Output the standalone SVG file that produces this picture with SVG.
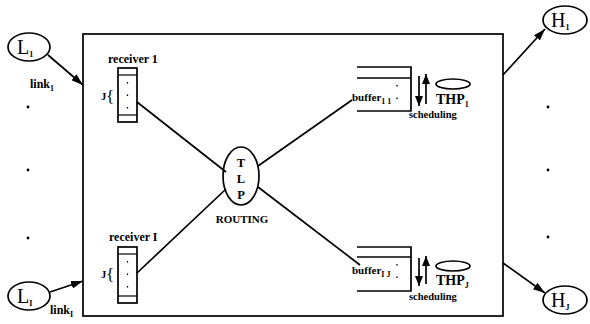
<svg xmlns="http://www.w3.org/2000/svg" width="590" height="324" viewBox="0 0 590 324">
  <defs>
    <marker id="arrow" viewBox="0 0 12 8" refX="12" refY="4" markerWidth="12" markerHeight="8" markerUnits="userSpaceOnUse" orient="auto">
      <path d="M0,0 L12,4 L0,8 Z" fill="#000"/>
    </marker>
    <marker id="harrow" viewBox="0 0 10 8" refX="10" refY="4" markerWidth="10" markerHeight="8" markerUnits="userSpaceOnUse" orient="auto">
      <path d="M0,0 L10,4 L0,8 Z" fill="#000"/>
    </marker>
    <style>
      .ln { stroke: #000; stroke-width: 1.7; fill: none; }
      .thin { stroke: #000; stroke-width: 1.2; fill: none; }
      .dot { stroke: #000; stroke-width: 1.3; stroke-dasharray: 1.5 11; fill: none; }
      .t { font-family: "Liberation Serif", "Times New Roman", serif; fill: #000; }
      .big { font-size: 20px; }
      .lbl { font-size: 12px; font-weight: bold; }
      .buf { font-size: 11px; font-weight: bold; }
      .sub { font-size: 8px; font-weight: bold; }
      .thp { font-size: 14px; font-weight: bold; }
      .sm { font-size: 10.5px; font-weight: bold; }
    </style>
  </defs>

  <rect width="590" height="324" fill="#fff"/>

  <!-- switch body -->
  <g id="switch">
    <rect x="83" y="34" width="420" height="282" class="ln"/>
  </g>

  <!-- input ports -->
  <g id="L1">
    <ellipse cx="29" cy="47" rx="21" ry="14" class="ln"/>
    <text x="17" y="54" class="t big">L<tspan class="sub" font-size="10" dy="3">1</tspan></text>
  </g>
  <g id="LI">
    <ellipse cx="29" cy="296" rx="21" ry="14" class="ln"/>
    <text x="17" y="303" class="t big">L<tspan class="sub" font-size="10" dy="3">I</tspan></text>
  </g>

  <!-- output ports -->
  <g id="H1">
    <ellipse cx="565" cy="20" rx="22" ry="14" class="ln"/>
    <text x="551" y="27" class="t big">H<tspan class="sub" font-size="10" dy="3">1</tspan></text>
  </g>
  <g id="HJ">
    <ellipse cx="565" cy="300" rx="22" ry="14" class="ln"/>
    <text x="551" y="307" class="t big">H<tspan class="sub" font-size="10" dy="3">J</tspan></text>
  </g>

  <!-- receivers -->
  <g id="receiver1">
    <text x="108" y="63" class="t lbl">receiver 1</text>
    <rect x="118" y="68" width="19" height="54" class="ln"/>
    <line x1="118" y1="75" x2="137" y2="75" class="thin"/>
    <line x1="118" y1="115" x2="137" y2="115" class="thin"/>
    <line x1="127.5" y1="82" x2="127.5" y2="112" class="dot"/>
    <text x="101" y="100" class="t sm">J</text>
    <text x="106" y="102" class="t" font-size="17">{</text>
  </g>
  <g id="receiverI">
    <text x="109" y="241" class="t lbl">receiver I</text>
    <rect x="118" y="247" width="19" height="56" class="ln"/>
    <line x1="118" y1="254" x2="137" y2="254" class="thin"/>
    <line x1="118" y1="296" x2="137" y2="296" class="thin"/>
    <line x1="127.5" y1="261" x2="127.5" y2="292" class="dot"/>
    <text x="101" y="278" class="t sm">J</text>
    <text x="106" y="280" class="t" font-size="17">{</text>
  </g>

  <!-- routing -->
  <g id="TLP">
    <ellipse cx="241" cy="176" rx="18" ry="29" class="ln"/>
    <text x="241" y="167" text-anchor="middle" class="t" font-size="12.5" font-weight="bold">T</text>
    <text x="241" y="183" text-anchor="middle" class="t" font-size="12.5" font-weight="bold">L</text>
    <text x="241" y="199" text-anchor="middle" class="t" font-size="12.5" font-weight="bold">P</text>
    <text x="242" y="223" text-anchor="middle" class="t" font-size="11" font-weight="bold">ROUTING</text>
  </g>

  <!-- output buffers -->
  <g id="buffer11">
    <path d="M357,67 H411 V111 H357 M357,78 H411" class="ln"/>
    <line x1="397" y1="85" x2="397" y2="106" class="dot"/>
    <text x="352" y="101" class="t buf">buffer<tspan class="sub" dy="3">1 1</tspan></text>
  </g>
  <g id="bufferIJ">
    <path d="M357,247 H411 V291 H357 M357,257 H411" class="ln"/>
    <line x1="397" y1="264" x2="397" y2="286" class="dot"/>
    <text x="352" y="274" class="t buf">buffer<tspan class="sub" dy="3">I J</tspan></text>
  </g>

  <!-- schedulers -->
  <g id="scheduler1">
    <line x1="419" y1="76" x2="419" y2="106" class="ln" marker-end="url(#harrow)"/>
    <line x1="426" y1="104" x2="426" y2="74" class="ln" marker-end="url(#harrow)"/>
    <ellipse cx="453" cy="84" rx="17" ry="5" class="ln"/>
    <text x="436" y="104" class="t thp">THP<tspan class="sub" dy="3">1</tspan></text>
    <text x="409" y="118" class="t sm">scheduling</text>
  </g>
  <g id="schedulerJ">
    <line x1="419" y1="258" x2="419" y2="286" class="ln" marker-end="url(#harrow)"/>
    <line x1="426" y1="284" x2="426" y2="256" class="ln" marker-end="url(#harrow)"/>
    <ellipse cx="453" cy="266" rx="17" ry="5" class="ln"/>
    <text x="436" y="285" class="t thp">THP<tspan class="sub" dy="3">J</tspan></text>
    <text x="409" y="300" class="t sm">scheduling</text>
  </g>

  <!-- link labels and ellipsis dots -->
  <g id="labels">
    <text x="30" y="88" class="t lbl">link<tspan class="sub" dy="3">1</tspan></text>
    <text x="50" y="314" class="t lbl">link<tspan class="sub" dy="3">I</tspan></text>
    <circle cx="28" cy="107" r="1.4"/>
    <circle cx="28" cy="170" r="1.4"/>
    <circle cx="28" cy="238" r="1.4"/>
    <circle cx="548" cy="107" r="1.4"/>
    <circle cx="548" cy="170" r="1.4"/>
    <circle cx="548" cy="237" r="1.4"/>
  </g>

  <!-- connectors -->
  <g id="connectors">
    <line x1="48" y1="55" x2="83" y2="85" class="ln" marker-end="url(#arrow)"/>
    <line x1="50" y1="292" x2="83" y2="281" class="ln" marker-end="url(#arrow)"/>
    <line x1="503" y1="75" x2="545" y2="29" class="ln" marker-end="url(#arrow)"/>
    <line x1="503" y1="263" x2="545" y2="293" class="ln" marker-end="url(#arrow)"/>
    <line x1="137" y1="102" x2="226" y2="172" class="ln"/>
    <line x1="137" y1="273" x2="226" y2="189" class="ln"/>
    <line x1="258" y1="166" x2="352" y2="100" class="ln"/>
    <line x1="258" y1="187" x2="360" y2="265" class="ln"/>
  </g>
</svg>
